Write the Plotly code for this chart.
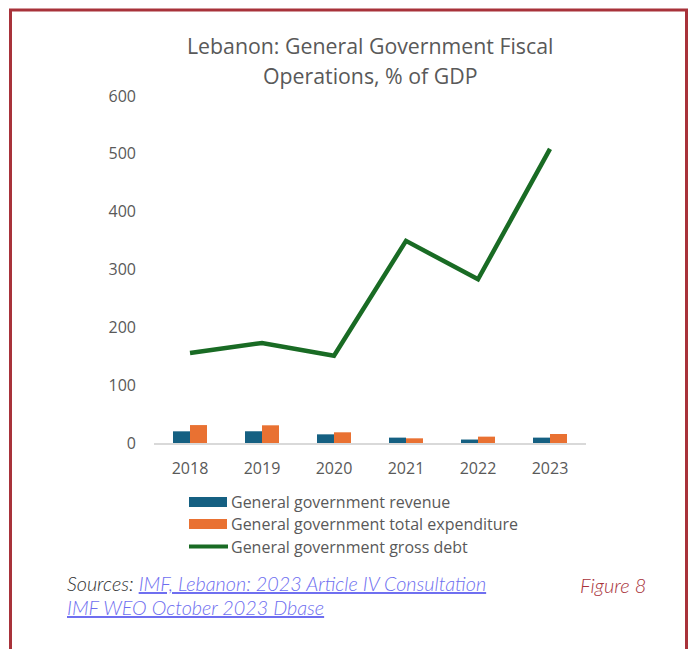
import plotly.graph_objects as go

# Lebanon: general government fiscal operations, % of GDP
years = ["2018", "2019", "2020", "2021", "2022", "2023"]
revenue = [20.2, 20.3, 15.0, 9.3, 6.0, 9.3]
expenditure = [31.0, 30.6, 18.5, 8.1, 11.0, 15.6]
gross_debt = [155.5, 173.0, 151.0, 349.5, 283.0, 508.5]

y_ticks = [0, 100, 200, 300, 400, 500, 600]

legend_labels = [
    "General government revenue",
    "General government total expenditure",
    "General government gross debt",
]

BLUE = "#156082"
ORANGE = "#E97132"
GREEN = "#196B24"
GREY_TEXT = "#595959"
FRAME = "#A8323A"
LINK = "#6E6EF0"

W, H = 690, 649
L, R, T, B = 154, 104, 96, 206
PW, PH = W - L - R, H - T - B

MAIN_FONT = "Open Sans"
NOTE_FONT = "Lato"


def px(x):
    return (x - L) / PW


def py(y):
    return (H - B - y) / PH


fig = go.Figure()
fig.add_trace(go.Bar(x=years, y=revenue, name=legend_labels[0],
                     marker=dict(color=BLUE, line=dict(width=0))))
fig.add_trace(go.Bar(x=years, y=expenditure, name=legend_labels[1],
                     marker=dict(color=ORANGE, line=dict(width=0))))
fig.add_trace(go.Scatter(x=years, y=gross_debt, name=legend_labels[2],
                         mode="lines", line=dict(color=GREEN, width=4.5)))

shapes = []
annotations = []

# Hand-built legend: wide swatches to the left of each label
legend_rows = [(502, "bar", BLUE), (524, "bar", ORANGE), (546.5, "line", GREEN)]
for (ycen, kind, col), label in zip(legend_rows, legend_labels):
    if kind == "bar":
        shapes.append(dict(type="rect", xref="paper", yref="paper",
                           x0=px(189), x1=px(227), y0=py(ycen + 5), y1=py(ycen - 5),
                           fillcolor=col, line=dict(width=0)))
    else:
        shapes.append(dict(type="line", xref="paper", yref="paper",
                           x0=px(189), x1=px(228), y0=py(ycen), y1=py(ycen),
                           line=dict(color=col, width=4)))
    annotations.append(dict(xref="paper", yref="paper", x=px(229), y=py(ycen),
                            text=label, showarrow=False, xanchor="left", yanchor="middle",
                            font=dict(family=MAIN_FONT, size=16, color=GREY_TEXT)))

# Chart title, two lines
for text, ycen in [("Lebanon: General Government Fiscal", 46),
                   ("Operations, % of GDP", 75)]:
    annotations.append(dict(xref="paper", yref="paper", x=0.5, y=py(ycen),
                            text=text, showarrow=False, xanchor="center", yanchor="middle",
                            font=dict(family=MAIN_FONT, size=21.3, color=GREY_TEXT)))

# Source notes and figure number
annotations.append(dict(
    xref="paper", yref="paper", x=px(65), y=py(583), xanchor="left", yanchor="middle",
    showarrow=False, align="left",
    text=("<i>Sources: </i><i><span style=\"fill:" + LINK + ";text-decoration:underline\">"
          "IMF, Lebanon: 2023 Article IV Consultation</span></i>"),
    font=dict(family=NOTE_FONT, size=19.8, color="#333333", weight=300)))
annotations.append(dict(
    xref="paper", yref="paper", x=px(65), y=py(607), xanchor="left", yanchor="middle",
    showarrow=False, align="left",
    text=("<i><span style=\"text-decoration:underline\">"
          "IMF WEO October 2023 Dbase</span></i>"),
    font=dict(family=NOTE_FONT, size=19.8, color=LINK, weight=300)))
annotations.append(dict(
    xref="paper", yref="paper", x=px(648), y=py(585), xanchor="right", yanchor="middle",
    showarrow=False, text="<i>Figure 8</i>",
    font=dict(family=NOTE_FONT, size=20, color=FRAME, weight=300)))

# Page frame (open at the bottom)
frame_pts = [(10.5, H + 5), (10.5, 10), (686.5, 10), (686.5, H + 5)]
path = "M " + " L ".join(f"{px(a)},{py(b)}" for a, b in frame_pts)
shapes.append(dict(type="path", xref="paper", yref="paper", path=path,
                   line=dict(color=FRAME, width=3)))

fig.update_layout(
    width=W, height=H,
    margin=dict(l=L, r=R, t=T, b=B, pad=0),
    paper_bgcolor="white", plot_bgcolor="white",
    barmode="group", bargap=0.528, bargroupgap=0,
    showlegend=False,
    shapes=shapes, annotations=annotations,
    xaxis=dict(type="category", showgrid=False, showline=True, linecolor="#D9D9D9",
               linewidth=2, ticks="", ticklabelstandoff=10,
               tickfont=dict(family=MAIN_FONT, size=16, color=GREY_TEXT)),
    yaxis=dict(range=[0, 600], tickvals=y_ticks, showgrid=False, zeroline=False,
               showline=False, ticks="", ticklabelstandoff=17,
               tickfont=dict(family=MAIN_FONT, size=16, color=GREY_TEXT)),
)

fig.write_html("out.html")
